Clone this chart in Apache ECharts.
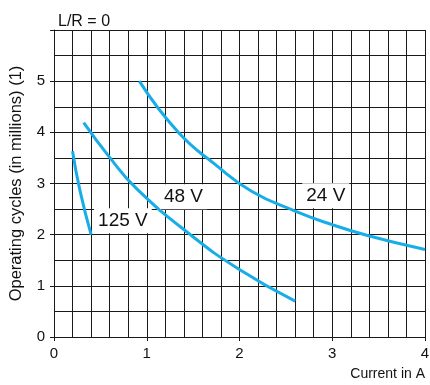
<!DOCTYPE html>
<html>
<head>
<meta charset="utf-8">
<script src="https://cdn.jsdelivr.net/npm/echarts@6/dist/echarts.min.js"></script>
<style>
  html, body { margin: 0; padding: 0; background: #fff; }
  #chart { width: 430px; height: 385px; }
</style>
</head>
<body>
<div id="chart"></div>
<script>
// Operating cycles vs. current for resistive loads (L/R = 0)
const seriesNames = ['125 V', '48 V', '24 V'];
const curve125V = [[0.2, 3.63], [0.28, 2.86], [0.4, 2.0]];
const curve48V = [[0.32, 4.19], [0.6, 3.51], [0.89, 2.9], [1.47, 2.0], [1.99, 1.33], [2.6, 0.7]];
const curve24V = [[0.92, 5.0], [1.34, 4.0], [1.74, 3.37], [2.13, 2.85], [2.6, 2.46], [2.99, 2.2], [3.39, 1.98], [4.0, 1.71]];
// Where each voltage label sits (data coordinates)
const labelCoords = [[0.743, 2.27], [1.396, 2.74], [2.93, 2.76]];
const xTicks = [0, 1, 2, 3, 4];
const yTicks = [0, 1, 2, 3, 4, 5];

const curves = [curve125V, curve48V, curve24V];
const gridColor = '#1a1a1a';
const curveColor = '#17aee8';
const font = 'Liberation Sans, Arial, sans-serif';

const chart = echarts.init(document.getElementById('chart'));
chart.setOption({
  animation: false,
  title: {
    text: 'L/R = 0',
    left: 53, top: 9,
    textStyle: { fontFamily: font, fontSize: 16, fontWeight: 'normal', color: '#111' }
  },
  grid: { left: 54, right: 5, top: 30, bottom: 48, outerBoundsMode: 'none', containLabel: false },
  xAxis: {
    type: 'value', min: 0, max: 4, interval: 1,
    name: 'Current in A', nameLocation: 'end',
    nameGap: 0,
    nameTextStyle: {
      fontFamily: font, fontSize: 14, color: '#111',
      align: 'right', verticalAlign: 'top', padding: [30, 0, 0, 0]
    },
    axisLine: { show: true, lineStyle: { color: gridColor, width: 1 } },
    axisTick: { show: true, length: 4, lineStyle: { color: gridColor } },
    axisLabel: {
      fontFamily: font, fontSize: 15, color: '#111', margin: 9,
      formatter: v => xTicks.includes(v) ? String(v) : ''
    },
    splitLine: { show: true, lineStyle: { color: gridColor, width: 1 } },
    minorTick: { show: false, splitNumber: 5 },
    minorSplitLine: { show: true, lineStyle: { color: gridColor, width: 1 } }
  },
  yAxis: {
    type: 'value', min: 0, max: 6, interval: 1,
    name: 'Operating cycles (in millions) (1)', nameLocation: 'middle',
    nameGap: 29,
    nameTextStyle: { fontFamily: font, fontSize: 16.5, color: '#111' },
    axisLine: { show: true, lineStyle: { color: gridColor, width: 1 } },
    axisTick: { show: true, length: 4, lineStyle: { color: gridColor } },
    axisLabel: {
      fontFamily: font, fontSize: 15, color: '#111', margin: 9,
      formatter: v => yTicks.includes(v) ? String(v) : ''
    },
    splitLine: { show: true, lineStyle: { color: gridColor, width: 1 } },
    minorTick: { show: false, splitNumber: 2 },
    minorSplitLine: { show: true, lineStyle: { color: gridColor, width: 1 } }
  },
  series: seriesNames.map((name, i) => ({
    name: name,
    type: 'line',
    data: curves[i],
    smooth: true,
    showSymbol: false,
    lineStyle: { color: curveColor, width: 3 },
    z: 3,
    markPoint: {
      symbol: 'rect', symbolSize: 0,
      silent: true,
      data: [{ coord: labelCoords[i], value: name }],
      label: {
        show: true, position: 'inside',
        formatter: name,
        fontFamily: font, fontSize: 19, color: '#111',
        backgroundColor: '#fff',
        padding: [4, 4, 2, 4]
      }
    }
  }))
});
</script>
</body>
</html>
